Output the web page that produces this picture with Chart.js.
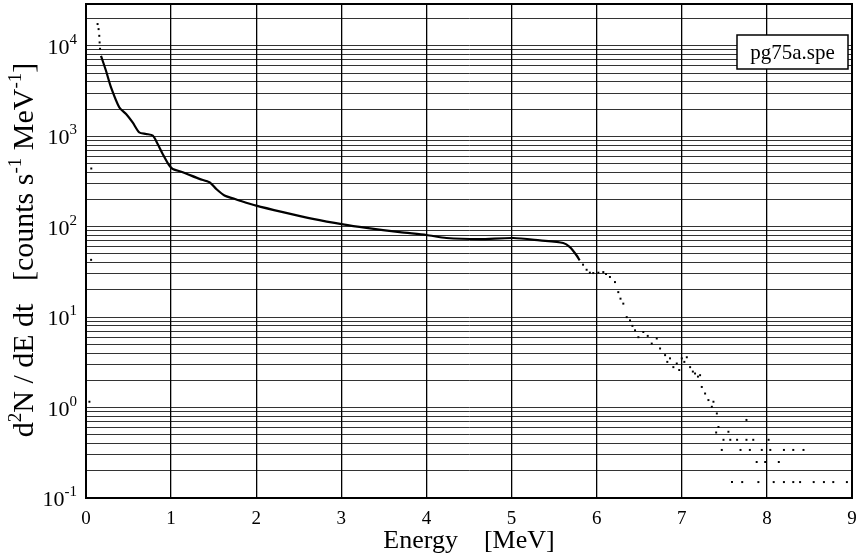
<!DOCTYPE html>
<html>
<head>
<meta charset="utf-8">
<script src="https://cdn.jsdelivr.net/npm/chart.js@4.4.1/dist/chart.umd.min.js"></script>
<style>
  html, body { margin: 0; padding: 0; background: #fff; }
  #wrap { width: 859px; height: 558px; }
</style>
</head>
<body>
<div id="wrap"><canvas id="spec"></canvas></div>
<script>
// spectrum pg75a.spe
const lineEnergy = [0.176, 0.235, 0.294, 0.392, 0.471, 0.548, 0.627, 0.706, 0.784, 0.842, 0.901, 0.98,
    1.019, 1.136, 1.333, 1.451, 1.529, 1.627, 1.725, 1.80, 2.0, 2.313, 2.666, 3.019, 3.294, 3.686,
    4.0, 4.235, 4.627, 5.019, 5.333, 5.607, 5.686, 5.765, 5.80];
const lineCounts = [7760, 5300, 3470, 2080, 1760, 1420, 1100, 1060, 1020, 822, 638, 473,
    435, 400, 338, 310, 262, 221, 206, 195, 171, 145, 122, 106, 97, 87,
    81, 75, 73, 75, 70.5, 66, 59.4, 48, 42.4];

// separate dots (first channels and the noisy high-energy tail)
const dotEnergy = [0.04, 0.06, 0.062, 0.136, 0.148, 0.156, 0.16, 0.165,
    5.84, 5.882, 5.92, 5.96, 6.02, 6.078, 6.11, 6.156, 6.215, 6.254, 6.28, 6.313, 6.353, 6.392, 6.42,
    6.451, 6.49, 6.548, 6.60, 6.647, 6.706, 6.745, 6.804, 6.83, 6.862, 6.901, 6.941, 6.97, 7.0, 7.03,
    7.059, 7.098, 7.13, 7.156, 7.19, 7.215, 7.235, 7.274, 7.313, 7.353, 7.372, 7.404, 7.412, 7.431,
    7.548, 7.76,
    7.49, 7.57, 7.65, 7.76, 7.84, 8.02,
    7.47, 7.69, 7.80, 7.94, 8.04, 8.20, 8.31, 8.43,
    7.88, 7.98, 8.14,
    7.59, 7.71, 7.90, 8.08, 8.20, 8.31, 8.39, 8.55, 8.67, 8.78, 8.94];
const dotCounts = [1.16, 43, 440, 17400, 15300, 12900, 10900, 9270,
    38, 33.4, 31, 30.7, 31, 31.5, 30, 27.8, 24.4, 18.9, 16, 14.1, 10.0, 9.2, 8,
    7.15, 6.0, 6.85, 6.2, 5.1, 5.8, 4.5, 3.8, 3.2, 3.5, 2.8, 3.07, 2.6, 3.5, 3.2,
    3.6, 2.8, 2.5, 2.38, 2.2, 2.28, 1.69, 1.43, 1.21, 1.02, 1.16, 0.53, 0.86, 0.61,
    0.54, 0.73,
    0.44, 0.44, 0.44, 0.44, 0.44, 0.44,
    0.34, 0.34, 0.34, 0.34, 0.34, 0.34, 0.34, 0.34,
    0.25, 0.25, 0.25,
    0.15, 0.15, 0.15, 0.15, 0.15, 0.15, 0.15, 0.15, 0.15, 0.15, 0.15];

const xTicks = [0, 1, 2, 3, 4, 5, 6, 7, 8, 9];
const yDecades = [-1, 0, 1, 2, 3, 4];
const yMultipliers = [1, 2, 3, 4, 5, 6, 7, 8, 9];

const serif = '"Liberation Serif", "DejaVu Serif", serif';

const yTickValues = [];
yDecades.forEach(d => yMultipliers.forEach(m => {
    const v = m * Math.pow(10, d);
    if (v <= 29000) yTickValues.push(v);
}));

// writes a run of [text, isSuperscript] pieces starting at x
function drawPieces(c, pieces, x, y, big, small, rise) {
    pieces.forEach(([t, sup]) => {
        c.font = (sup ? small : big) + 'px ' + serif;
        c.fillText(t, x, sup ? y - rise : y);
        x += c.measureText(t).width;
    });
}
function piecesWidth(c, pieces, big, small) {
    let w = 0;
    pieces.forEach(([t, sup]) => {
        c.font = (sup ? small : big) + 'px ' + serif;
        w += c.measureText(t).width;
    });
    return w;
}

// power-of-ten labels and rotated y title with real superscripts
const yLabels = {
    id: 'yLabels',
    afterDraw(chart) {
        const c = chart.ctx, y = chart.scales.y, a = chart.chartArea;
        c.save();
        c.fillStyle = '#000';
        c.textAlign = 'left';
        c.textBaseline = 'alphabetic';
        yDecades.forEach(d => {
            const py = y.getPixelForValue(Math.pow(10, d));
            const pieces = [['10', false], [String(d), true]];
            const w = piecesWidth(c, pieces, 22, 15);
            drawPieces(c, pieces, a.left - 9 - w, py + 8, 22, 15, 10);
        });
        const title = [['d', false], ['2', true], ['N / dE dt   [counts s', false], ['-1', true],
            [' MeV', false], ['-1', true], [']', false]];
        const tw = piecesWidth(c, title, 30, 19);
        c.translate(33, 250);
        c.rotate(-Math.PI / 2);
        drawPieces(c, title, -tw / 2, 0, 30, 19, 12);
        c.restore();
    }
};

// file name box at the top right
const fileBox = {
    id: 'fileBox',
    afterDraw(chart) {
        const c = chart.ctx, a = chart.chartArea;
        c.save();
        c.strokeStyle = '#000';
        c.lineWidth = 2;
        c.strokeRect(a.left, a.top, a.right - a.left, a.bottom - a.top);
        c.fillStyle = '#fff';
        c.fillRect(737, 35, 111, 34);
        c.lineWidth = 1.5;
        c.strokeRect(737, 35, 111, 34);
        c.fillStyle = '#000';
        c.font = '21px ' + serif;
        c.textAlign = 'center';
        c.textBaseline = 'middle';
        c.fillText('pg75a.spe', 792.5, 53);
        c.restore();
    }
};

const ctx = document.getElementById('spec').getContext('2d');
new Chart(ctx, {
    type: 'scatter',
    data: {
        datasets: [{
            label: 'spectrum',
            data: lineEnergy.map((e, i) => ({ x: e, y: lineCounts[i] })),
            showLine: true,
            borderColor: '#000',
            borderWidth: 2.2,
            pointRadius: 0,
            tension: 0.25
        }, {
            label: 'channels',
            data: dotEnergy.map((e, i) => ({ x: e, y: dotCounts[i] })),
            showLine: false,
            pointStyle: 'rect',
            pointRadius: 1.4,
            backgroundColor: '#000',
            borderWidth: 0
        }]
    },
    options: {
        responsive: true,
        maintainAspectRatio: false,
        animation: false,
        layout: { padding: { top: 3, right: 7, left: 0, bottom: 0 } },
        plugins: { legend: { display: false }, tooltip: { enabled: false } },
        scales: {
            x: {
                type: 'linear',
                min: 0,
                max: 9,
                afterBuildTicks: s => { s.ticks = xTicks.map(v => ({ value: v })); },
                afterFit: s => { s.height = 60; s.paddingLeft = 0; s.paddingRight = 0; },
                grid: { color: '#000', lineWidth: 1.3, drawTicks: false },
                border: { color: '#000', width: 2 },
                ticks: { color: '#000', padding: 10, font: { family: serif, size: 19 } },
                title: {
                    display: true,
                    text: 'Energy    [MeV]',
                    color: '#000',
                    font: { family: serif, size: 26 },
                    padding: { top: 0, bottom: 1 }
                }
            },
            y: {
                type: 'logarithmic',
                min: 0.1,
                max: 29000,
                afterBuildTicks: s => { s.ticks = yTickValues.map(v => ({ value: v })); },
                afterFit: s => { s.width = 86; s.paddingTop = 0; s.paddingBottom = 0; },
                grid: { color: 'rgba(0,0,0,0.8)', lineWidth: 1, drawTicks: false },
                border: { color: '#000', width: 2 },
                ticks: { display: true, autoSkip: false, callback: () => '' }
            }
        }
    },
    plugins: [yLabels, fileBox]
});
</script>
</body>
</html>
